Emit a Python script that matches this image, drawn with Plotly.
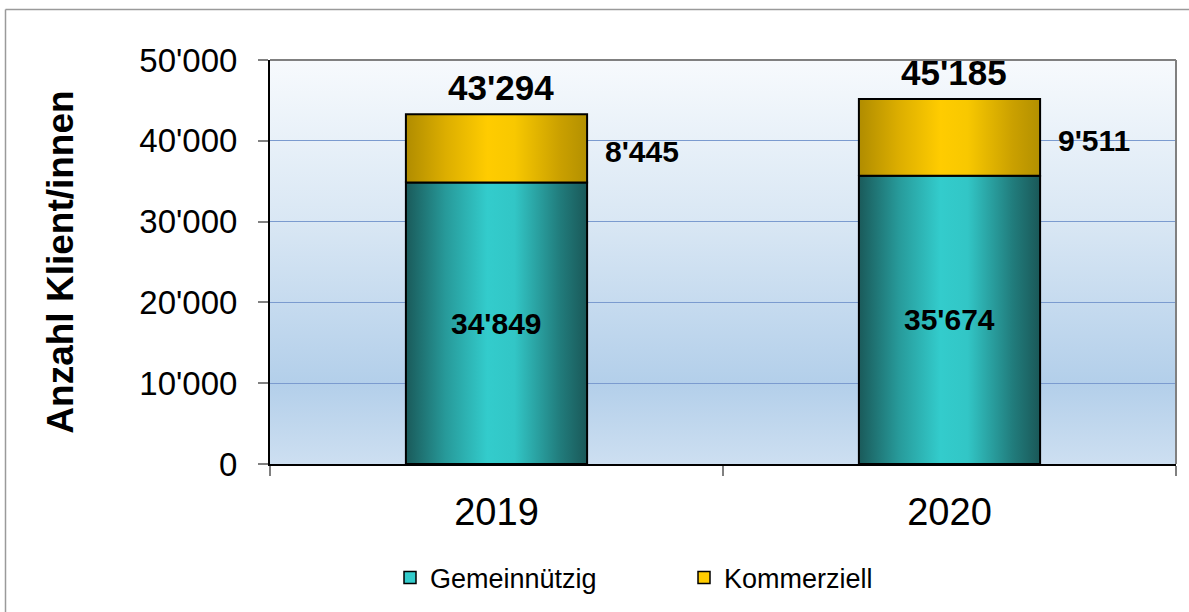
import base64
import plotly.graph_objects as go

# ---- data ----
years = ["2019", "2020"]
gemeinnuetzig = [34849, 35674]
kommerziell = [8445, 9511]
totals = [43294, 45185]
series_names = ["Gemeinnützig", "Kommerziell"]
y_title = "Anzahl Klient/innen"

# ---- layout constants ----
W, H = 1189, 612
ML, MR, MT, MB = 270, 13, 60, 148
PW, PH = W - ML - MR, H - MT - MB
FONT = "Liberation Sans, Arial, Helvetica, sans-serif"
HALF = 0.2  # half bar width in category units

TEAL = [[0, "#1a5a5a"], [0.22, "#279a9a"], [0.45, "#33cccc"], [0.6, "#32c6c6"],
        [0.85, "#217c7c"], [1, "#1a5858"]]
GOLD = [[0, "#b08c00"], [0.22, "#dcae00"], [0.45, "#ffcc00"], [0.6, "#f8c800"],
        [0.85, "#caa000"], [1, "#b39000"]]


def fmt(v):
    return f"{v:,}".replace(",", "'")


def px_x(px):
    return (px - ML) / PW


def px_y(py):
    return (H - MB - py) / PH


fig = go.Figure()

xs = list(range(len(years)))
for i, x in enumerate(xs):
    segs = [(0, gemeinnuetzig[i], TEAL, series_names[0]),
            (gemeinnuetzig[i], gemeinnuetzig[i] + kommerziell[i], GOLD, series_names[1])]
    for base, top, cs, nm in segs:
        fig.add_trace(go.Scatter(
            x=[x - HALF, x + HALF, x + HALF, x - HALF, x - HALF],
            y=[base, base, top, top, base],
            mode="lines", fill="toself",
            fillgradient=dict(type="horizontal", colorscale=cs),
            line=dict(color="black", width=2),
            name=nm, showlegend=False, hoverinfo="text",
            text=f"{nm} {years[i]}: {fmt(top - base)}",
        ))

# legend entries
fig.add_trace(go.Bar(x=[None], y=[None], name=series_names[0],
                     marker=dict(color="#33cccc", line=dict(color="black", width=1.5))))
fig.add_trace(go.Bar(x=[None], y=[None], name=series_names[1],
                     marker=dict(color="#ffcc00", line=dict(color="black", width=1.5))))

annotations = []
for i, x in enumerate(xs):
    annotations.append(dict(x=x, y=totals[i], xref="x", yref="y", text=fmt(totals[i]),
                            showarrow=False, yanchor="bottom", yshift=5, xshift=4,
                            font=dict(family=FONT, size=35, color="black", weight="bold")))
    annotations.append(dict(x=x, y=gemeinnuetzig[i] / 2, xref="x", yref="y",
                            text=fmt(gemeinnuetzig[i]), showarrow=False,
                            font=dict(family=FONT, size=30, color="black", weight="bold")))
    annotations.append(dict(x=x + HALF, y=gemeinnuetzig[i] + kommerziell[i] / 2,
                            xref="x", yref="y", text=fmt(kommerziell[i]), showarrow=False,
                            xanchor="left", xshift=16, yshift=-3,
                            font=dict(family=FONT, size=30, color="black", weight="bold")))

svg = ("<svg xmlns='http://www.w3.org/2000/svg' width='100' height='100' viewBox='0 0 100 100' "
       "preserveAspectRatio='none'><defs><linearGradient id='g' x1='0' y1='0' x2='0' y2='1'>"
       "<stop offset='0' stop-color='#f7fafd'/><stop offset='0.4' stop-color='#d9e7f4'/>"
       "<stop offset='0.8' stop-color='#b3cfea'/><stop offset='1' stop-color='#cddff1'/>"
       "</linearGradient></defs><rect width='100' height='100' fill='url(#g)'/></svg>")
bg_src = "data:image/svg+xml;base64," + base64.b64encode(svg.encode()).decode()

shapes = [
    dict(type="line", xref="paper", yref="paper", x0=0, x1=1, y0=1, y1=1,
         line=dict(color="#808080", width=2)),
    dict(type="line", xref="paper", yref="paper", x0=1, x1=1, y0=0, y1=1,
         line=dict(color="#808080", width=2)),
    dict(type="line", xref="paper", yref="paper", x0=px_x(5.5), x1=px_x(W + 5),
         y0=px_y(9.5), y1=px_y(9.5), line=dict(color="#9a9a9a", width=1.5)),
    dict(type="line", xref="paper", yref="paper", x0=px_x(5.5), x1=px_x(5.5),
         y0=px_y(9.5), y1=px_y(H + 5), line=dict(color="#9a9a9a", width=1.5)),
]

fig.update_layout(
    width=W, height=H,
    margin=dict(l=ML, r=MR, t=MT, b=MB, autoexpand=False),
    paper_bgcolor="white", plot_bgcolor="rgba(0,0,0,0)",
    separators=".'",
    font=dict(family=FONT, color="black"),
    showlegend=True,
    legend=dict(orientation="h", x=px_x(390), y=px_y(578), xanchor="left", yanchor="middle",
                font=dict(family=FONT, size=27, color="black"),
                entrywidth=249, entrywidthmode="pixels", bgcolor="rgba(0,0,0,0)",
                traceorder="normal"),
    annotations=annotations,
    shapes=shapes,
    images=[dict(source=bg_src, xref="paper", yref="paper", x=0, y=1, sizex=1, sizey=1,
                 xanchor="left", yanchor="top", sizing="stretch", layer="below")],
    xaxis=dict(range=[-0.5, 1.5], tickvals=xs, ticktext=years, ticks="",
               showgrid=False, zeroline=False, showline=True, linecolor="black", linewidth=2,
               tickfont=dict(family=FONT, size=38, color="black"), ticklabelstandoff=13,
               minor=dict(tickvals=[-0.5, 0.5, 1.5], ticks="outside", ticklen=10,
                          tickcolor="#808080", tickwidth=1.5, showgrid=False),
               fixedrange=True),
    yaxis=dict(range=[0, 50000], dtick=10000, tickformat=",d", ticks="outside", ticklen=10,
               tickcolor="#808080", tickwidth=1.5, showgrid=True, gridcolor="#7b9bcf",
               gridwidth=1, zeroline=False, showline=True, linecolor="black", linewidth=2,
               tickfont=dict(family=FONT, size=33, color="black"), ticklabelstandoff=14,
               title=dict(text=y_title, standoff=54,
                          font=dict(family=FONT, size=37, color="black", weight="bold")),
               fixedrange=True),
)

fig.write_html("out.html", config={"displayModeBar": False},
               post_script="document.body.style.margin='0';")
